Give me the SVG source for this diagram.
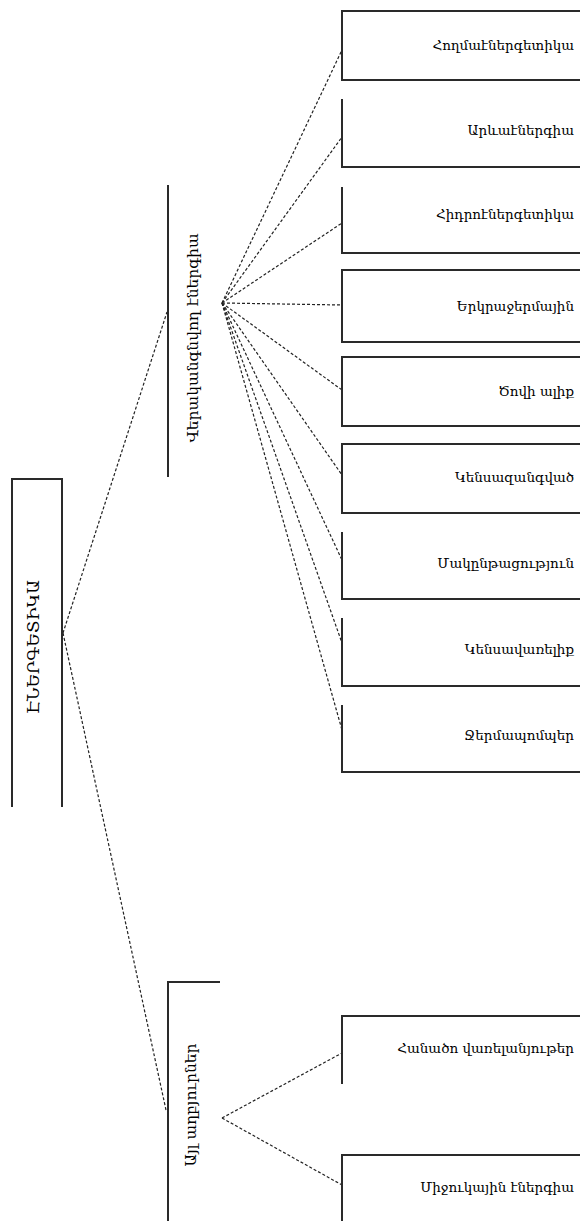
<svg xmlns="http://www.w3.org/2000/svg" width="580" height="1221" viewBox="0 0 580 1221">
<style>
.frame{fill:none;stroke:#2a2a2a;stroke-width:2}
.conn{fill:none;stroke:#222;stroke-width:1.2;stroke-dasharray:3 2}
.t{font-family:"DejaVu Serif","Noto Sans",serif;font-size:13.5px;fill:#000;dominant-baseline:central}
.leaf{text-anchor:end}
.mid{text-anchor:middle;font-size:15.5px}
</style>
<rect width="580" height="1221" fill="#fff"/>
<g id="connectors">
<path class="conn" d="M63,633 L167,312"/>
<path class="conn" d="M63,633 L166,1110"/>
<path class="conn" d="M222,303 L342,50"/>
<path class="conn" d="M222,303 L342,137"/>
<path class="conn" d="M222,303 L342,223"/>
<path class="conn" d="M222,303 L342,305"/>
<path class="conn" d="M222,303 L342,390"/>
<path class="conn" d="M222,303 L342,475"/>
<path class="conn" d="M222,303 L342,560"/>
<path class="conn" d="M222,303 L342,643"/>
<path class="conn" d="M222,303 L342,730"/>
<path class="conn" d="M222,1118 L342,1053"/>
<path class="conn" d="M222,1118 L342,1185"/>
</g>
<g id="root">
<path class="frame" d="M12,807 V479 H62 V807"/>
<text class="t mid" transform="translate(33,647) rotate(-90)" style="font-size:17px">ԷՆԵՐԳԵՏԻԿԱ</text>
</g>
<g id="mid1">
<path class="frame" d="M168,185 V477"/>
<text class="t mid" transform="translate(193,338) rotate(-90)">Վերականգնվող էներգիա</text>
</g>
<g id="mid2">
<path class="frame" d="M220,982 H168 V1221"/>
<text class="t mid" transform="translate(191,1105) rotate(-90)">Այլ աղբյուրներ</text>
</g>
<g id="leaf1">
<path class="frame" d="M580,11 H342 V80 H580"/>
<text class="t leaf" x="574" y="45">Հողմաէներգետիկա</text>
</g>
<g id="leaf2">
<path class="frame" d="M342,99 V167 H580"/>
<text class="t leaf" x="574" y="130">Արևաէներգիա</text>
</g>
<g id="leaf3">
<path class="frame" d="M342,187 V253 H580"/>
<text class="t leaf" x="574" y="214">Հիդրոէներգետիկա</text>
</g>
<g id="leaf4">
<path class="frame" d="M580,270 H342 V342 H580"/>
<text class="t leaf" x="574" y="306">Երկրաջերմային</text>
</g>
<g id="leaf5">
<path class="frame" d="M580,357 H342 V426 H580"/>
<text class="t leaf" x="574" y="391">Ծովի ալիք</text>
</g>
<g id="leaf6">
<path class="frame" d="M580,444 H342 V513 H580"/>
<text class="t leaf" x="574" y="477">Կենսազանգված</text>
</g>
<g id="leaf7">
<path class="frame" d="M342,532 V599 H580"/>
<text class="t leaf" x="574" y="563">Մակընթացություն</text>
</g>
<g id="leaf8">
<path class="frame" d="M342,618 V686 H580"/>
<text class="t leaf" x="574" y="649">Կենսավառելիք</text>
</g>
<g id="leaf9">
<path class="frame" d="M342,705 V772 H580"/>
<text class="t leaf" x="574" y="735">Ջերմապոմպեր</text>
</g>
<g id="leaf10">
<path class="frame" d="M580,1016 H342 V1084"/>
<text class="t leaf" x="574" y="1048">Հանածո վառելանյութեր</text>
</g>
<g id="leaf11">
<path class="frame" d="M580,1155 H342 V1221"/>
<text class="t leaf" x="574" y="1187">Միջուկային էներգիա</text>
</g>
</svg>
